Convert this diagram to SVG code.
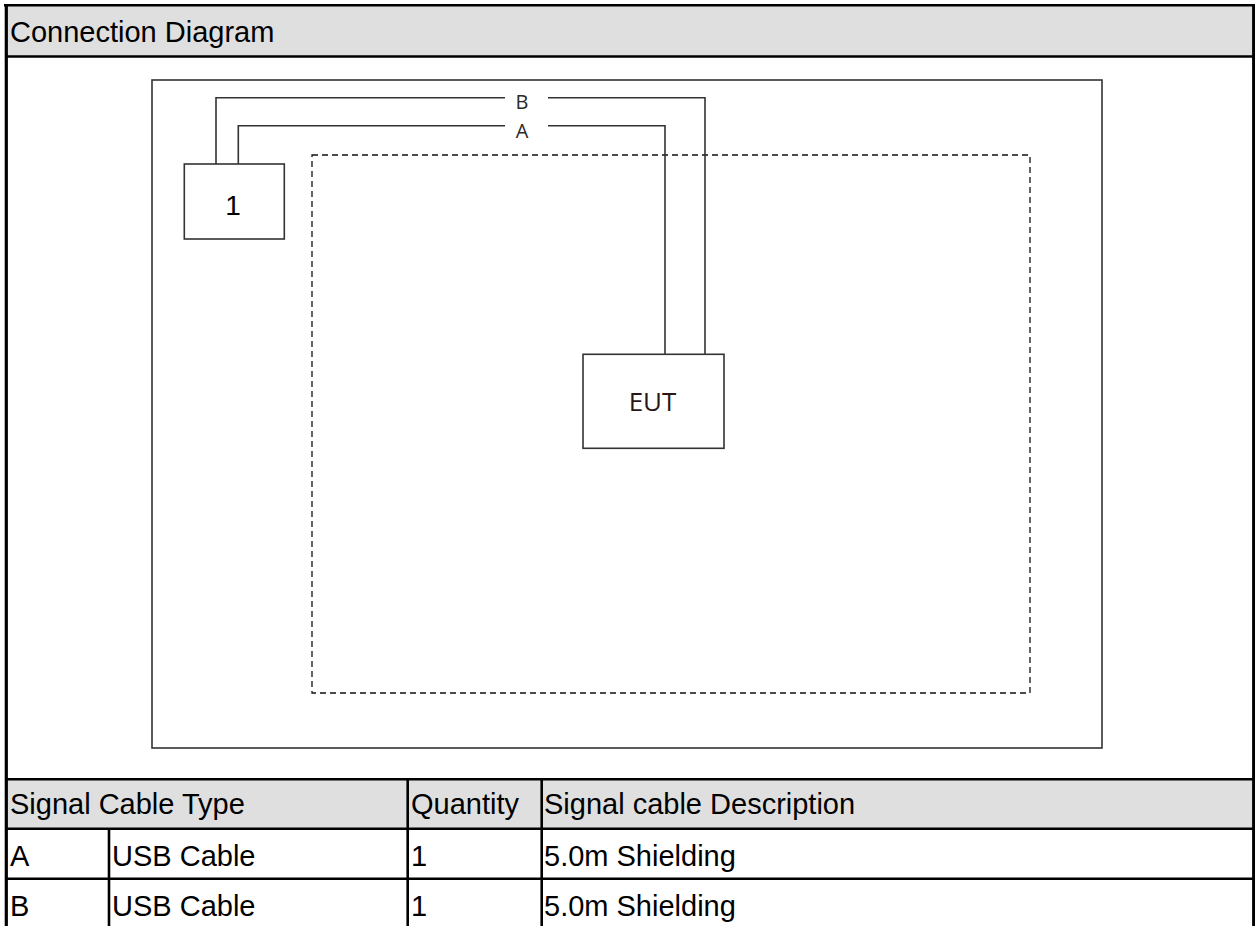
<svg xmlns="http://www.w3.org/2000/svg" width="1255" height="926" viewBox="0 0 1255 926">
<style>
.t{font-family:"Liberation Sans",Arial,sans-serif;font-size:29px;fill:#000}
.lbl{font-family:"Open Sans","DejaVu Sans",sans-serif;font-size:20px;fill:#2a2a2a}
.box{fill:#fff;stroke:#333;stroke-width:1.6}
.cable{fill:none;stroke:#333;stroke-width:1.6}
.grid{stroke:#000;stroke-width:2.6;fill:none}
.hdr{fill:#dfdfdf}
</style>
<rect width="1255" height="926" fill="#fff"/>
<g id="frame">
<rect class="hdr" x="5" y="5" width="1248" height="51"/>
<rect class="hdr" x="5" y="779" width="1248" height="49"/>
<line class="grid" x1="4" y1="5.3" x2="1255" y2="5.3"/>
<line class="grid" x1="5" y1="56.5" x2="1253" y2="56.5"/>
<line x1="6.3" y1="4" x2="6.3" y2="926" stroke="#000" stroke-width="3.2"/>
<line x1="1253.6" y1="4" x2="1253.6" y2="926" stroke="#000" stroke-width="3"/>
<line class="grid" x1="5" y1="779.3" x2="1253" y2="779.3"/>
<line class="grid" x1="5" y1="828.7" x2="1253" y2="828.7"/>
<line class="grid" x1="5" y1="878.7" x2="1253" y2="878.7"/>
<line class="grid" x1="109" y1="828.7" x2="109" y2="926"/>
<line class="grid" x1="407.7" y1="779.3" x2="407.7" y2="926"/>
<line class="grid" x1="541.7" y1="779.3" x2="541.7" y2="926"/>
<text class="t" x="10" y="42">Connection Diagram</text>
<text class="t" x="10" y="814">Signal Cable Type</text>
<text class="t" x="411" y="814">Quantity</text>
<text class="t" x="544" y="814">Signal cable Description</text>
<text class="t" x="10" y="866">A</text>
<text class="t" x="112" y="866">USB Cable</text>
<text class="t" x="411" y="866">1</text>
<text class="t" x="544" y="866">5.0m Shielding</text>
<text class="t" x="10" y="916">B</text>
<text class="t" x="112" y="916">USB Cable</text>
<text class="t" x="411" y="916">1</text>
<text class="t" x="544" y="916">5.0m Shielding</text>
</g>
<g id="area">
<rect x="152" y="80" width="950" height="668" fill="none" stroke="#333" stroke-width="1.6"/>
<rect x="312" y="155" width="718" height="538" fill="none" stroke="#111" stroke-width="1.3" stroke-dasharray="6 4"/>
</g>
<g id="connectors">
<polyline class="cable" points="216,164 216,97.7 505,97.7"/>
<polyline class="cable" points="548,97.7 705,97.7 705,354"/>
<polyline class="cable" points="238.3,164 238.3,125.7 505,125.7"/>
<polyline class="cable" points="548,125.7 665,125.7 665,354"/>
<text class="lbl" x="522" y="109" text-anchor="middle">B</text>
<text class="lbl" x="522" y="138" text-anchor="middle">A</text>
</g>
<g id="node-1">
<rect class="box" x="184.3" y="164" width="100" height="75"/>
<text x="233" y="215" text-anchor="middle" font-family="Liberation Sans, Arial, sans-serif" font-size="28" fill="#000">1</text>
</g>
<g id="node-eut">
<rect class="box" x="583" y="354.3" width="141" height="94"/>
<text x="652.5" y="411" text-anchor="middle" font-family="Open Sans, DejaVu Sans, sans-serif" font-size="26" fill="#2a1616">EUT</text>
</g>
</svg>
